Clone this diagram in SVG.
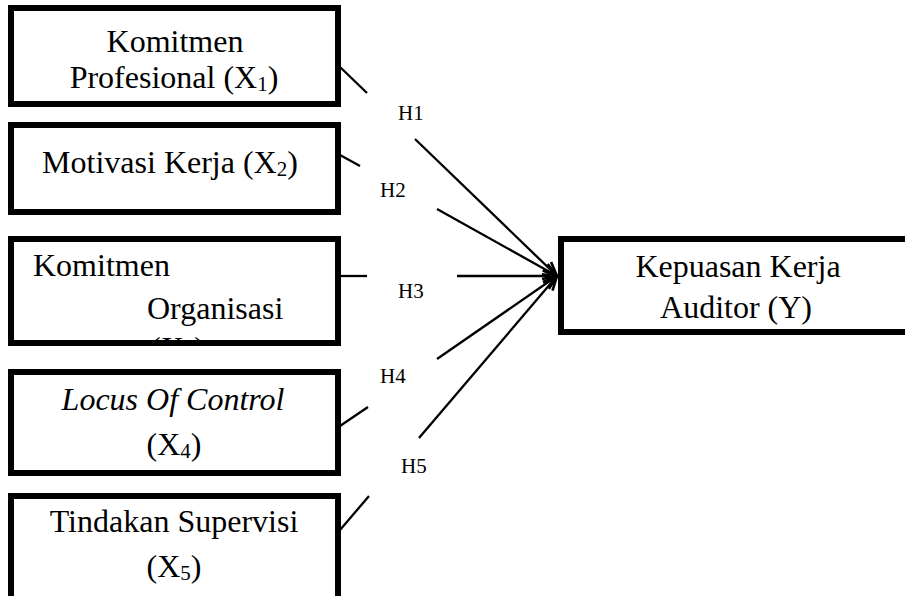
<svg xmlns="http://www.w3.org/2000/svg" width="905" height="596" viewBox="0 0 905 596">
<style>
.box{fill:#fff;stroke:#000;stroke-width:6}
.t{font-family:"Liberation Serif","Times New Roman",serif;font-size:32px;fill:#000}
.sub{font-size:21px}
.lbl{font-family:"Liberation Serif","Times New Roman",serif;font-size:21px;fill:#000}
.c{fill:none;stroke:#000;stroke-width:2.3}
</style>
<defs>
<marker id="arr" viewBox="0 0 16 16" refX="15" refY="8" markerWidth="16" markerHeight="16" markerUnits="userSpaceOnUse" orient="auto">
<path d="M1,2 L15,8 L1,14" fill="none" stroke="#000" stroke-width="2.6"/>
</marker>
<clipPath id="clip3"><rect x="0" y="0" width="905" height="343"/></clipPath>
</defs>
<rect width="905" height="596" fill="#fff"/>

<g id="x1">
<rect class="box" x="11" y="8" width="327" height="96"/>
<text class="t" x="175" y="52" text-anchor="middle">Komitmen</text>
<text class="t" x="174" y="88" text-anchor="middle">Profesional (X<tspan class="sub" dy="3">1</tspan><tspan dy="-3">)</tspan></text>
</g>

<g id="x2">
<rect class="box" x="11" y="125" width="327" height="87"/>
<text class="t" x="170" y="173" text-anchor="middle">Motivasi Kerja (X<tspan class="sub" dy="3">2</tspan><tspan dy="-3">)</tspan></text>
</g>

<g id="x3">
<text class="t" x="33" y="276">Komitmen</text>
<text class="t" x="147" y="319">Organisasi</text>
<text class="t" x="150" y="359" clip-path="url(#clip3)">(X<tspan class="sub" dy="3">3</tspan><tspan dy="-3">)</tspan></text>
<rect class="box" x="11" y="239" width="327" height="104" style="fill:none"/>
</g>

<g id="x4">
<rect class="box" x="11" y="372" width="327" height="101"/>
<text class="t" x="173" y="410" text-anchor="middle" font-style="italic">Locus Of Control</text>
<text class="t" x="174" y="455" text-anchor="middle">(X<tspan class="sub" dy="3">4</tspan><tspan dy="-3">)</tspan></text>
</g>

<g id="x5">
<rect class="box" x="11" y="496" width="327" height="130"/>
<text class="t" x="174" y="532" text-anchor="middle">Tindakan Supervisi</text>
<text class="t" x="174" y="577" text-anchor="middle">(X<tspan class="sub" dy="3">5</tspan><tspan dy="-3">)</tspan></text>
</g>

<g id="y">
<rect class="box" x="561" y="239" width="400" height="93"/>
<text class="t" x="738" y="277" text-anchor="middle">Kepuasan Kerja</text>
<text class="t" x="736" y="318" text-anchor="middle">Auditor (Y)</text>
</g>

<g id="connectors">
<line class="c" x1="340" y1="67" x2="367" y2="93"/>
<line class="c" x1="415" y1="139" x2="557" y2="276" marker-end="url(#arr)"/>
<line class="c" x1="340" y1="155" x2="360" y2="166"/>
<line class="c" x1="437" y1="209" x2="557" y2="276" marker-end="url(#arr)"/>
<line class="c" x1="340" y1="276" x2="367" y2="276"/>
<line class="c" x1="457" y1="276" x2="557" y2="276" marker-end="url(#arr)"/>
<line class="c" x1="340" y1="426" x2="368" y2="407"/>
<line class="c" x1="437" y1="359" x2="557" y2="276" marker-end="url(#arr)"/>
<line class="c" x1="340" y1="530" x2="369" y2="496"/>
<line class="c" x1="419" y1="438" x2="557" y2="276" marker-end="url(#arr)"/>
</g>

<g id="labels">
<text class="lbl" x="398" y="120">H1</text>
<text class="lbl" x="380" y="197">H2</text>
<text class="lbl" x="398" y="298">H3</text>
<text class="lbl" x="380" y="383">H4</text>
<text class="lbl" x="401" y="473">H5</text>
</g>
</svg>
